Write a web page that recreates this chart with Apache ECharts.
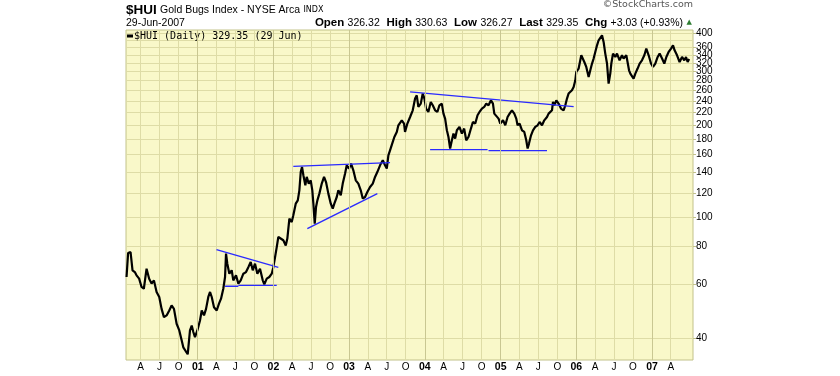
<!DOCTYPE html>
<html><head><meta charset="utf-8">
<script src="https://cdn.jsdelivr.net/npm/echarts@6/dist/echarts.min.js"></script>
<style>html,body{margin:0;padding:0;background:#fff}#c{width:840px;height:376px}</style>
</head><body><div id="c"></div>
<script>
// Dates as decimal years, closing values of $HUI
const dates = [
2000.062,2000.083,2000.115,2000.141,2000.171,2000.194,2000.228,2000.260,2000.290,2000.326,
2000.360,2000.392,2000.423,2000.458,2000.493,2000.524,2000.555,2000.590,2000.625,2000.656,
2000.687,2000.722,2000.757,2000.789,2000.810,2000.832,2000.868,2000.898,2000.921,2000.942,
2000.964,2000.995,2001.030,2001.053,2001.083,2001.110,2001.140,2001.163,2001.185,2001.215,
2001.251,2001.281,2001.308,2001.338,2001.361,2001.374,2001.391,2001.418,2001.449,2001.470,
2001.506,2001.537,2001.568,2001.603,2001.638,2001.669,2001.700,2001.727,2001.757,2001.788,
2001.823,2001.859,2001.880,2001.912,2001.946,2001.978,2001.999,2002.022,2002.044,2002.065,
2002.088,2002.131,2002.163,2002.184,2002.211,2002.242,2002.263,2002.295,2002.322,2002.343,
2002.361,2002.378,2002.396,2002.422,2002.440,2002.467,2002.493,2002.514,2002.528,2002.546,
2002.563,2002.581,2002.607,2002.639,2002.669,2002.695,2002.726,2002.758,2002.784,2002.805,
2002.837,2002.858,2002.890,2002.916,2002.947,2002.969,2002.999,2003.026,2003.056,2003.088,
2003.122,2003.154,2003.180,2003.211,2003.241,2003.277,2003.313,2003.343,2003.373,2003.409,
2003.445,2003.475,2003.498,2003.519,2003.541,2003.577,2003.598,2003.630,2003.651,2003.673,
2003.696,2003.726,2003.739,2003.770,2003.806,2003.841,2003.872,2003.894,2003.915,2003.947,
2003.973,2003.995,2004.017,2004.047,2004.079,2004.105,2004.136,2004.166,2004.193,2004.224,
2004.246,2004.268,2004.291,2004.312,2004.334,2004.357,2004.378,2004.400,2004.423,2004.457,
2004.489,2004.519,2004.546,2004.576,2004.608,2004.634,2004.665,2004.695,2004.721,2004.753,
2004.783,2004.810,2004.840,2004.872,2004.898,2004.916,2004.942,2004.972,2004.995,2005.031,
2005.061,2005.091,2005.118,2005.149,2005.180,2005.206,2005.223,2005.250,2005.282,2005.312,
2005.338,2005.356,2005.374,2005.401,2005.427,2005.457,2005.488,2005.514,2005.546,2005.576,
2005.612,2005.633,2005.656,2005.678,2005.691,2005.709,2005.735,2005.765,2005.797,2005.831,
2005.854,2005.876,2005.897,2005.920,2005.942,2005.964,2005.986,2005.999,2006.030,2006.052,
2006.065,2006.088,2006.105,2006.131,2006.162,2006.184,2006.207,2006.228,2006.250,2006.273,
2006.294,2006.316,2006.339,2006.360,2006.382,2006.405,2006.426,2006.448,2006.462,2006.484,
2006.515,2006.537,2006.571,2006.603,2006.624,2006.660,2006.677,2006.696,2006.713,2006.735,
2006.756,2006.779,2006.809,2006.836,2006.867,2006.898,2006.924,2006.955,2006.986,2007.013,
2007.043,2007.074,2007.100,2007.132,2007.162,2007.189,2007.219,2007.251,2007.277,2007.298,
2007.330,2007.364,2007.396,2007.426,2007.449,2007.470,2007.490
];
const closes = [
63.6,76.2,76.8,66.9,66.0,64.4,62.8,59.0,58.2,67.7,
62.8,60.5,62.0,56.8,54.7,50.0,47.0,47.6,49.4,51.3,
50.0,44.7,42.5,39.4,37.4,37.9,35.5,42.5,44.1,42.0,
40.4,42.5,45.8,49.4,47.6,50.0,54.7,56.8,54.7,50.6,
49.4,52.0,54.0,58.2,63.6,75.9,70.3,65.2,66.9,62.0,
64.4,60.5,62.0,65.2,66.0,68.5,71.2,66.9,70.3,65.2,
67.7,62.0,60.2,62.8,63.6,65.2,68.5,73.9,79.7,86.0,
87.1,83.9,80.7,85.0,98.8,96.3,101.3,110.6,113.4,122.3,
140.4,145.8,137.0,127.0,135.3,128.7,131.9,122.3,110.6,95.1,
107.8,113.4,119.3,128.7,135.3,130.2,119.3,110.6,106.6,110.6,
116.3,122.3,117.8,128.7,138.8,147.7,144.1,149.6,142.2,131.9,
128.7,122.3,114.9,116.3,120.8,125.4,128.7,135.3,140.4,147.7,
153.4,147.7,144.1,159.3,165.4,176.2,182.9,190.0,199.8,198.3,
207.4,202.4,190.0,202.4,212.7,223.7,244.4,250.5,229.4,235.3,
253.8,244.4,226.6,220.9,238.2,232.3,223.7,220.9,232.3,235.3,
218.2,210.1,192.4,182.9,167.6,178.4,187.6,180.7,192.4,197.3,
187.6,194.9,178.4,182.9,194.9,204.8,202.4,215.4,220.9,226.6,
229.4,235.3,232.3,241.2,235.3,218.2,215.4,210.1,202.4,207.4,
199.8,212.7,218.2,223.7,218.2,210.1,199.8,202.4,192.4,190.0,
178.4,167.6,174.0,185.2,192.4,197.3,199.8,204.8,199.8,207.4,
212.7,218.2,215.4,223.7,238.2,232.3,241.2,235.3,226.6,223.7,
232.3,244.4,253.8,250.5,260.2,266.8,280.5,298.7,306.5,310.2,
338.8,343.2,322.1,310.2,287.6,302.5,318.3,330.5,347.4,365.3,
379.4,384.4,394.0,374.6,343.2,318.3,273.7,295.1,318.3,343.2,
334.5,343.2,326.2,338.8,330.5,338.8,343.2,302.5,295.1,298.7,
284.2,295.1,306.5,318.3,326.2,338.8,356.4,338.8,318.3,310.2,
318.3,334.5,343.2,330.5,318.3,334.5,347.4,356.4,365.3,351.8,
338.8,322.1,334.5,326.2,334.5,322.1,329.35
];
// Trend lines: [startYear, startValue, endYear, endValue]
const trendLines = [
  [2001.248, 78.2, 2002.065, 68.4],
  [2001.361, 59.3, 2001.537, 59.3],
  [2001.537, 59.7, 2002.044, 59.7],
  [2002.263, 146.6, 2003.541, 150.8],
  [2002.448, 91.6, 2003.373, 119.3],
  [2003.806, 256.9, 2005.964, 230.1],
  [2004.070, 166.3, 2004.827, 166.3],
  [2004.840, 165.0, 2005.612, 165.0]
];
const yTicks = [40,60,80,100,120,140,160,180,200,220,240,260,280,300,320,340,360,380,400];
const yearLines = [2001,2002,2003,2004,2005,2006,2007];
const quote = {open:'326.32', high:'330.63', low:'326.27', last:'329.35', chg:'+3.03 (+0.93%)', date:'29-Jun-2007', legendDate:'29 Jun'};
const xRange = [2000.055, 2007.541];
const yRange = [34, 410];

function ts(y){const yr=Math.floor(y);const a=Date.UTC(yr,0,1),b=Date.UTC(yr+1,0,1);return a+(y-yr)*(b-a);}
const lastT = ts(dates[dates.length-1]);
const quarterTicks=[];
for(let yr=2000;yr<=2007;yr++){for(const m of [0,3,6,9]){const t=Date.UTC(yr,m,1);if(t>ts(xRange[0])&&t<lastT)quarterTicks.push(t);}}
const mLetter={3:'A',6:'J',9:'O'};

const bg='#f9f8c9', grid='#dedca6', border='#c2c28a', yearCol='#c9c792';
const chart=echarts.init(document.getElementById('c'),null,{renderer:'canvas'});
const series=[{
  name:'yearlines', type:'line', data:[[ts(2003),100],[ts(2004),100]], lineStyle:{opacity:0}, showSymbol:false, silent:true, z:1,
  markLine:{silent:true, symbol:'none', label:{show:false}, lineStyle:{color:yearCol,type:'solid',width:1}, data:yearLines.map(y=>({xAxis:ts(y)}))}
},{
  name:'$HUI', type:'line', data:dates.map((d,i)=>[ts(d),closes[i]]), showSymbol:false, z:3,
  lineStyle:{color:'#000',width:2.2}, itemStyle:{color:'#000'}
}];
trendLines.forEach((l,i)=>series.push({name:'trend'+i,type:'line',data:[[ts(l[0]),l[1]],[ts(l[2]),l[3]]],showSymbol:false,z:4,lineStyle:{color:'#2a2aff',width:1.3},itemStyle:{color:'#2a2aff'}}));

chart.setOption({
  animation:false,
  backgroundColor:'#fff',
  textStyle:{fontFamily:'Liberation Sans'},
  grid:{left:126,right:147,top:30,bottom:16,show:true,backgroundColor:bg,borderColor:border,borderWidth:1},
  legend:{data:['$HUI'],left:127,top:31,itemWidth:6,itemHeight:3,itemGap:0,icon:'rect',padding:0,
    formatter:()=>'$HUI (Daily) '+quote.last+' ('+quote.legendDate+')',
    textStyle:{fontFamily:'DejaVu Sans Mono',fontSize:10,color:'#000',padding:[0,0,0,-4]}},
  xAxis:{type:'value',min:ts(xRange[0]),max:ts(xRange[1]),
    axisLine:{show:false},
    axisTick:{show:false,customValues:quarterTicks},
    splitLine:{show:true,lineStyle:{color:grid,width:1}},
    axisLabel:{customValues:quarterTicks,margin:2,fontSize:10,color:'#000',
      formatter:(v)=>{const d=new Date(v);const m=d.getUTCMonth();if(m===0)return '{b|'+String(d.getUTCFullYear()%100).padStart(2,'0')+'}';return mLetter[m]||'';},
      rich:{b:{fontWeight:'bold',fontSize:10.5,color:'#000'}}}
  },
  yAxis:{type:'log',logBase:10,min:yRange[0],max:yRange[1],position:'right',
    axisLine:{show:false},
    axisTick:{show:true,length:3,inside:false,lineStyle:{color:border},customValues:yTicks},
    splitLine:{show:true,lineStyle:{color:grid,width:1}},
    axisLabel:{customValues:yTicks,margin:3,fontSize:10,color:'#000',showMaxLabel:true,showMinLabel:true,hideOverlap:false,formatter:v=>String(Math.round(v))}
  },
  graphic:[
    {type:'text',left:126,top:3,style:{text:'{a|$HUI} {b|Gold Bugs Index - NYSE Arca} {c|INDX}',rich:{a:{fontFamily:'Liberation Sans',fontWeight:'bold',fontSize:13.5,fill:'#000'},b:{fontFamily:'Liberation Sans',fontSize:10.5,fill:'#000'},c:{fontFamily:'DejaVu Sans',fontSize:8,fill:'#000'}}}},
    {type:'text',left:126,top:18,style:{text:quote.date,fontFamily:'Liberation Sans',fontSize:10.5,fill:'#000'}},
    {type:'text',right:157,top:17,style:{text:'{l|Open} {v|'+quote.open+'}  {l|High} {v|'+quote.high+'}  {l|Low} {v|'+quote.low+'}  {l|Last} {v|'+quote.last+'}  {l|Chg} {v|'+quote.chg+'}',
      rich:{l:{fontFamily:'Liberation Sans',fontWeight:'bold',fontSize:11.5,fill:'#000'},v:{fontFamily:'Liberation Sans',fontSize:10.5,fill:'#000'}}}},
    {type:'text',right:148,top:19,style:{text:'▲',fontFamily:'DejaVu Sans',fontSize:7,fill:'#2e7d32'}},
    {type:'text',right:147,top:0,style:{text:'©StockCharts.com',fontFamily:'DejaVu Sans',fontSize:9.5,fill:'#555'}}
  ],
  series:series
});
</script></body></html>
